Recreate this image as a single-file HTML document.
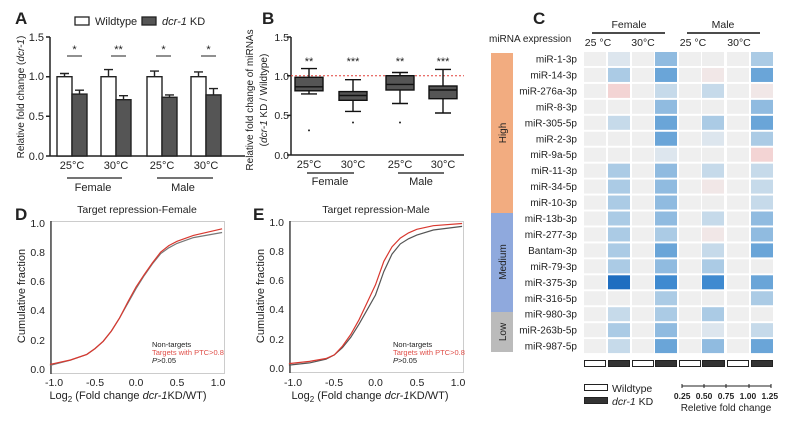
<!DOCTYPE html><html><head><meta charset="utf-8"><style>body{margin:0;background:#fff}svg{display:block;font-family:"Liberation Sans",Arial,sans-serif}</style></head><body>
<svg width="800" height="422" viewBox="0 0 800 422" xmlns="http://www.w3.org/2000/svg">
<g font-size="11" fill="#222">
<!-- Panel A -->
<text x="15" y="24" font-size="17" font-weight="bold">A</text>
<rect x="75" y="17" width="14" height="8" fill="#fff" stroke="#222" stroke-width="1.3"/>
<text x="95" y="25">Wildtype</text>
<rect x="142" y="17" width="14" height="8" fill="#555" stroke="#222" stroke-width="1.3"/>
<text x="162" y="25"><tspan font-style="italic">dcr-1</tspan> KD</text>
<g stroke="#222" stroke-width="1.5" fill="none">
<path d="M50 37V156H245M46 37H50M46 76.7H50M46 116.3H50M46 156H50"/>
</g>
<text x="44" y="41" text-anchor="end">1.5</text><text x="44" y="80" text-anchor="end">1.0</text><text x="44" y="120" text-anchor="end">0.5</text><text x="44" y="160" text-anchor="end">0.0</text>
<text transform="translate(24,97) rotate(-90)" text-anchor="middle" font-size="10">Relative fold change (<tspan font-style="italic">dcr-1</tspan>)</text>
<g stroke="#222" stroke-width="1.4">
<rect x="57" y="76.7" width="15" height="79.3" fill="#fff"/><rect x="72" y="94.1" width="15" height="61.9" fill="#555"/>
<rect x="101" y="76.7" width="15" height="79.3" fill="#fff"/><rect x="116" y="99.7" width="15" height="56.3" fill="#555"/>
<rect x="147" y="76.7" width="15" height="79.3" fill="#fff"/><rect x="162" y="97.3" width="15" height="58.7" fill="#555"/>
<rect x="191" y="76.7" width="15" height="79.3" fill="#fff"/><rect x="206" y="94.9" width="15" height="61.1" fill="#555"/>
<path fill="none" d="M64.5 76.7V73.5M60 73.5H69M79.5 94.1V90.2M75 90.2H84M108.5 76.7V69.6M104 69.6H113M123.5 99.7V95.7M119 95.7H128M154.5 76.7V71.1M150 71.1H159M169.5 97.3V94.9M165 94.9H174M198.5 76.7V71.9M194 71.9H203M213.5 94.9V88.6M209 88.6H218"/>
<path d="M67 56H82M111 56H126M156 56H171M201 56H216" stroke-width="1"/>
<path d="M67 178H122M157 178H213" stroke-width="1.2"/>
</g>
<g text-anchor="middle">
<text x="74.5" y="53">*</text><text x="118.5" y="53">**</text><text x="163.5" y="53">*</text><text x="208.5" y="53">*</text>
<text x="72" y="169">25°C</text><text x="116" y="169">30°C</text><text x="162" y="169">25°C</text><text x="206" y="169">30°C</text>
<text x="93" y="191">Female</text><text x="183" y="191">Male</text>
</g>
<!-- Panel B -->
<text x="262" y="24" font-size="17" font-weight="bold">B</text>
<g stroke="#222" stroke-width="1.5" fill="none"><path d="M291 37V155H464M287 37H291M287 75.7H291M287 115.4H291M287 155H291"/></g>
<g font-size="10.5" text-anchor="end"><text x="289" y="41">1.5</text><text x="289" y="80">1.0</text><text x="289" y="119">0.5</text><text x="289" y="159">0.0</text></g>
<text transform="translate(253,100) rotate(-90)" text-anchor="middle" font-size="10">Relative fold change of miRNAs</text>
<text transform="translate(267,100) rotate(-90)" text-anchor="middle" font-size="10">(<tspan font-style="italic">dcr-1</tspan> KD / Wildtype)</text>
<path d="M291 75.7H464" stroke="#e0403a" stroke-width="1" stroke-dasharray="2,2"/>
<g stroke="#111" stroke-width="1.4" fill="none">
<path d="M309 68.6V77.3M309 90.8V93.9M301 68.6H317M301 93.9H317"/><rect x="295" y="77.3" width="28" height="13.5" fill="#555"/><path d="M295 86.8H323"/>
<path d="M353 79.7V91.6M353 100.3V111.4M345 79.7H361M345 111.4H361"/><rect x="339" y="91.6" width="28" height="8.7" fill="#555"/><path d="M339 95.5H367"/>
<path d="M400 72.5V75.7M400 90V103.5M392 72.5H408M392 103.5H408"/><rect x="386" y="75.7" width="28" height="14.3" fill="#555"/><path d="M386 84.4H414"/>
<path d="M443 69.4V86M443 98.7V113M435 69.4H451M435 113H451"/><rect x="429" y="86" width="28" height="12.7" fill="#555"/><path d="M429 90H457"/>
<path d="M307 173H354M398 173H444" stroke-width="1.2"/>
</g>
<g fill="#222"><circle cx="309" cy="130.4" r="1"/><circle cx="353" cy="122.5" r="1"/><circle cx="400" cy="122.5" r="1"/></g>
<g text-anchor="middle">
<text x="309" y="65">**</text><text x="353" y="65">***</text><text x="400" y="65">**</text><text x="443" y="65">***</text>
<text x="309" y="168">25°C</text><text x="353" y="168">30°C</text><text x="400" y="168">25°C</text><text x="443" y="168">30°C</text>
<text x="330" y="185">Female</text><text x="421" y="185">Male</text>
</g>
<!-- Panel C -->
<text x="533" y="24" font-size="17" font-weight="bold">C</text>
<text x="489" y="42" font-size="10">miRNA expression</text>
<g text-anchor="middle" font-size="10.5"><text x="629" y="28">Female</text><text x="723" y="28">Male</text>
<text x="598" y="46">25 °C</text><text x="643" y="46">30°C</text><text x="693" y="46">25 °C</text><text x="739" y="46">30°C</text></g>
<path d="M592 33H665M687 33H760" stroke="#111" stroke-width="1.5"/>
<rect x="491" y="53" width="22" height="160" fill="#f2ac80"/>
<rect x="491" y="213" width="22" height="99" fill="#8fa9dd"/>
<rect x="491" y="312" width="22" height="40" fill="#bbbbbb"/>
<g font-size="10" text-anchor="middle"><text transform="translate(506,133) rotate(-90)">High</text><text transform="translate(506,262) rotate(-90)">Medium</text><text transform="translate(506,332) rotate(-90)">Low</text></g>
<g font-size="10" text-anchor="end" id="labs"></g>
<g id="heat"></g>
<g stroke="#222" stroke-width="1">
<rect x="584.5" y="360.5" width="21" height="6" fill="#fff"/><rect x="608.5" y="360.5" width="21" height="6" fill="#333"/>
<rect x="632.5" y="360.5" width="21" height="6" fill="#fff"/><rect x="655.5" y="360.5" width="21" height="6" fill="#333"/>
<rect x="679.5" y="360.5" width="21" height="6" fill="#fff"/><rect x="702.5" y="360.5" width="22" height="6" fill="#333"/>
<rect x="727.5" y="360.5" width="21" height="6" fill="#fff"/><rect x="751.5" y="360.5" width="21" height="6" fill="#333"/>
<rect x="584.5" y="384.5" width="23" height="6" fill="#fff"/><rect x="584.5" y="397.5" width="23" height="6" fill="#333"/>
<path d="M682 386H771M682 384V388M704 384V388M726 384V388M749 384V388M771 384V388"/>
</g>
<text x="612" y="392" font-size="10.5">Wildtype</text>
<text x="612" y="405" font-size="10.5"><tspan font-style="italic">dcr-1</tspan> KD</text>
<text x="726" y="399" font-size="8.5" font-weight="bold" text-anchor="middle" word-spacing="3">0.25 0.50 0.75 1.00 1.25</text>
<text x="726" y="411" font-size="10" text-anchor="middle">Reletive fold change</text>
<!-- Panel D -->
<text x="15" y="220" font-size="17" font-weight="bold">D</text>
<text x="137" y="213" font-size="10.5" text-anchor="middle">Target repression-Female</text>
<rect x="50.5" y="221.5" width="174" height="152" fill="none" stroke="#ccc"/>
<path d="M51 221V374" stroke="#333" stroke-width="1.3"/>
<g font-size="10.5" text-anchor="end"><text x="45" y="227">1.0</text><text x="45" y="256">0.8</text><text x="45" y="285">0.6</text><text x="45" y="314">0.4</text><text x="45" y="344">0.2</text><text x="45" y="373">0.0</text></g>
<g font-size="10.5" text-anchor="middle"><text x="54" y="386">-1.0</text><text x="95" y="386">-0.5</text><text x="136" y="386">0.0</text><text x="177" y="386">0.5</text><text x="218" y="386">1.0</text></g>
<text transform="translate(25,296) rotate(-90)" font-size="11" text-anchor="middle">Cumulative fraction</text>
<text x="128" y="399" font-size="11" text-anchor="middle">Log<tspan font-size="8" dy="3">2</tspan><tspan dy="-3"> (Fold change </tspan><tspan font-style="italic">dcr-1</tspan>KD/WT)</text>
<polyline fill="none" stroke="#777" stroke-width="1.2" points="49.9,365.4 70.4,360.2 86.8,354.4 95,348.6 103.2,341.3 111.4,331 119.6,317.9 127.8,303.3 136,288.7 144.2,275.6 152.4,263.9 160.6,253.7 168.8,247.8 177,243.4 193.4,237.6 222.1,232.5"/>
<polyline fill="none" stroke="#d9382f" stroke-width="1.2" points="49.9,364.4 70.4,360 86.8,354.4 95,348.6 103.2,341.3 111.4,331 119.6,317.9 127.8,302 136,287 144.2,274.6 152.4,262.9 160.6,252.2 168.8,245.6 177,241.3 193.4,235.4 222.1,228.8"/>
<g font-size="7.5"><text x="152" y="347">Non-targets</text><text x="152" y="355" fill="#e0504a">Targets with PTC&gt;0.8</text><text x="152" y="363"><tspan font-style="italic">P</tspan>&gt;0.05</text></g>
<!-- Panel E -->
<text x="253" y="220" font-size="17" font-weight="bold">E</text>
<text x="376" y="213" font-size="10.5" text-anchor="middle">Target repression-Male</text>
<rect x="289.5" y="221.5" width="174" height="151" fill="none" stroke="#ccc"/>
<path d="M290 221V373" stroke="#333" stroke-width="1.3"/>
<g font-size="10.5" text-anchor="end"><text x="284" y="226">1.0</text><text x="284" y="255">0.8</text><text x="284" y="284">0.6</text><text x="284" y="313">0.4</text><text x="284" y="343">0.2</text><text x="284" y="372">0.0</text></g>
<g font-size="10.5" text-anchor="middle"><text x="293" y="386">-1.0</text><text x="334" y="386">-0.5</text><text x="375.5" y="386">0.0</text><text x="417" y="386">0.5</text><text x="458" y="386">1.0</text></g>
<text transform="translate(264,296) rotate(-90)" font-size="11" text-anchor="middle">Cumulative fraction</text>
<text x="370" y="399" font-size="11" text-anchor="middle">Log<tspan font-size="8" dy="3">2</tspan><tspan dy="-3"> (Fold change </tspan><tspan font-style="italic">dcr-1</tspan>KD/WT)</text>
<polyline fill="none" stroke="#555" stroke-width="1.2" points="288.9,365.1 309.5,362.9 326,359.2 334.3,354.9 342.5,347.6 350.8,337.3 359,324.2 367.3,309.6 375.5,295 383.8,271.6 392,254.1 400.3,243.9 408.5,238.8 416.8,235.1 433.3,230 462.1,226.4"/>
<polyline fill="none" stroke="#d9382f" stroke-width="1.2" points="288.9,363.6 309.5,361.4 326,358.5 334.3,354.9 342.5,346.1 350.8,334.4 359,319.8 367.3,302.3 375.5,284.8 383.8,261.4 392,246.8 400.3,238.1 408.5,232.9 416.8,229.3 433.3,225.7 462.1,223.5"/>
<g font-size="7.5"><text x="393" y="347">Non-targets</text><text x="393" y="355" fill="#e0504a">Targets with PTC&gt;0.8</text><text x="393" y="363"><tspan font-style="italic">P</tspan>&gt;0.05</text></g>
</g>
<script>
var names=["miR-1-3p","miR-14-3p","miR-276a-3p","miR-8-3p","miR-305-5p","miR-2-3p","miR-9a-5p","miR-11-3p","miR-34-5p","miR-10-3p","miR-13b-3p","miR-277-3p","Bantam-3p","miR-79-3p","miR-375-3p","miR-316-5p","miR-980-3p","miR-263b-5p","miR-987-5p"];
var d=[[1,4,0,3],[3,5,"f",5],[2,2,2,"f"],[0,4,0,4],[2,5,3,5],[0,5,1,3],[0,1,0,"p"],[3,4,2,2],[3,4,"f",2],[3,4,0,2],[3,4,2,4],[3,3,"f",4],[3,5,2,5],[3,4,3,0],[7,6,6,5],[0,3,0,3],[2,3,3,0],[3,4,1,2],[2,5,4,5]];
d[2][0]="p";
var col={0:"#eeeeee",1:"#dde6ee",2:"#c6daea",3:"#abcbe5",4:"#90bbe0",5:"#6aa5d8",6:"#3f8ad0",7:"#1f6ec0",p:"#f3d4d4",f:"#f1e7e7"};
var xs=[584,608,632,655,679,702,727,751],ns="http://www.w3.org/2000/svg",h=document.getElementById("heat"),l=document.getElementById("labs");
for(var i=0;i<19;i++){var y=52+i*15.95;
var t=document.createElementNS(ns,"text");t.setAttribute("x",577);t.setAttribute("y",y+10.5);t.textContent=names[i];l.appendChild(t);
for(var j=0;j<8;j++){var r=document.createElementNS(ns,"rect");r.setAttribute("x",xs[j]);r.setAttribute("y",y);r.setAttribute("width",22);r.setAttribute("height",14);
r.setAttribute("fill",j%2==0?"#efefef":col[d[i][(j-1)/2]]);h.appendChild(r);}}
</script>
</svg></body></html>
